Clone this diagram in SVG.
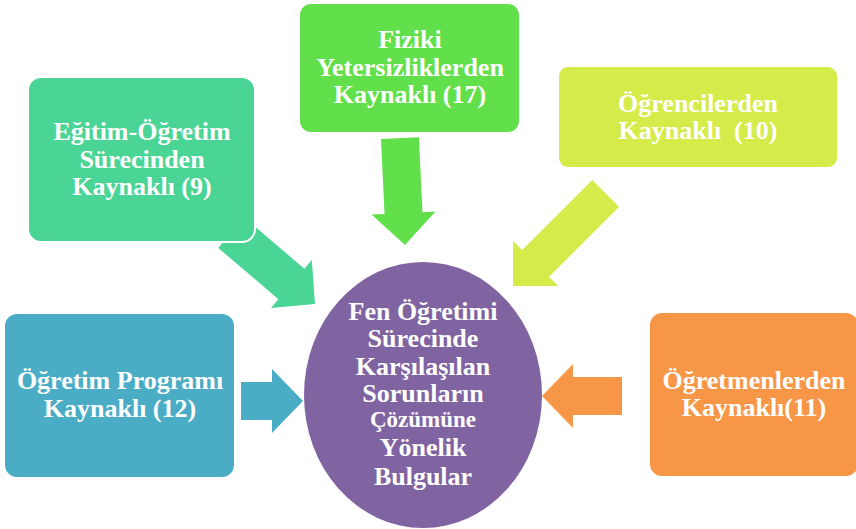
<svg xmlns="http://www.w3.org/2000/svg" width="856" height="529" viewBox="0 0 856 529">
<style>
  .box { stroke: #ffffff; stroke-width: 2; }
  .t { font-family: "Liberation Serif", serif; font-weight: bold; font-size: 26px; fill: #ffffff; text-anchor: middle; }
  .t2 { font-size: 23px; }
  .c1 { fill: #4AD495; }
  .c2 { fill: #62E04B; }
  .c3 { fill: #D5EB4A; }
  .c4 { fill: #4BACC6; }
  .c5 { fill: #F79646; }
  .c6 { fill: #8064A2; }
</style>
<rect width="856" height="529" fill="#ffffff"/>
<g id="connectors">
  <polygon class="c1" transform="translate(315,304) rotate(40.4)" points="-110,-20 -31,-20 -31,-31.5 0,0 -31,31.5 -31,20 -110,20"/>
  <polygon class="c2" transform="translate(405,245) rotate(87.3)" points="-107,-19 -32,-19 -32,-32 0,0 -32,32 -32,19 -107,19"/>
  <polygon class="c3" transform="translate(513,286) rotate(135)" points="-131,-19 -32,-19 -32,-32 0,0 -32,32 -32,19 -131,19"/>
  <polygon class="c4" transform="translate(303,401)" points="-62,-19 -31,-19 -31,-32 0,0 -31,32 -31,19 -62,19"/>
  <polygon class="c5" transform="translate(542,396) rotate(180)" points="-80,-19 -31,-19 -31,-32 0,0 -31,32 -31,19 -80,19"/>
</g>
<g id="egitim">
  <rect class="box c1" x="28" y="77" width="227" height="165" rx="13"/>
  <text class="t" x="142" y="140">Eğitim-Öğretim</text>
  <text class="t" x="142" y="167.5">Sürecinden</text>
  <text class="t" x="142" y="195">Kaynaklı (9)</text>
</g>
<g id="fiziki">
  <rect class="box c2" x="299" y="3" width="221" height="130" rx="12"/>
  <text class="t" x="410" y="48">Fiziki</text>
  <text class="t" x="410" y="76">Yetersizliklerden</text>
  <text class="t" x="410" y="103">Kaynaklı (17)</text>
</g>
<g id="ogrenci">
  <rect class="box c3" x="558" y="66" width="280" height="102" rx="10"/>
  <text class="t" x="698" y="112">Öğrencilerden</text>
  <text class="t" x="698" y="139" xml:space="preserve">Kaynaklı  (10)</text>
</g>
<g id="program">
  <rect class="box c4" x="4" y="313" width="231" height="165" rx="13"/>
  <text class="t" x="120" y="389">Öğretim Programı</text>
  <text class="t" x="120" y="417">Kaynaklı (12)</text>
</g>
<g id="ogretmen">
  <rect class="box c5" x="649" y="312" width="210" height="165" rx="13"/>
  <text class="t" x="754" y="389">Öğretmenlerden</text>
  <text class="t" x="754" y="416">Kaynaklı(11)</text>
</g>
<g id="merkez">
  <ellipse class="c6" cx="423" cy="395" rx="119" ry="133"/>
  <text class="t" x="423" y="320">Fen Öğretimi</text>
  <text class="t" x="423" y="347">Sürecinde</text>
  <text class="t" x="423" y="375">Karşılaşılan</text>
  <text class="t" x="423" y="402">Sorunların</text>
  <text class="t t2" x="423" y="427">Çözümüne</text>
  <text class="t" x="423" y="456">Yönelik</text>
  <text class="t" x="423" y="485">Bulgular</text>
</g>
</svg>
